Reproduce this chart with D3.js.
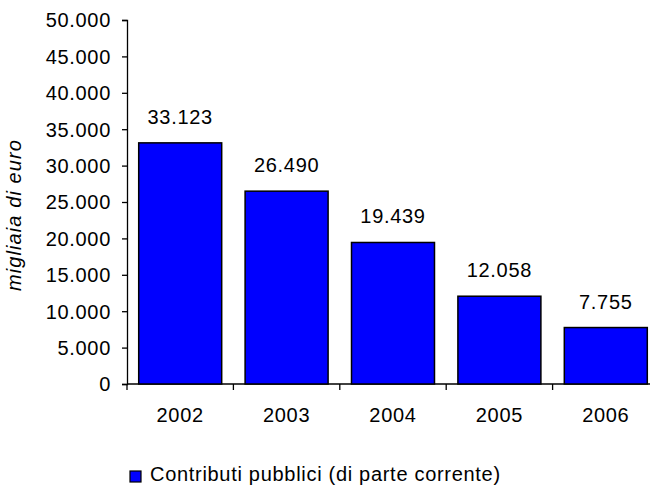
<!DOCTYPE html>
<html>
<head>
<meta charset="utf-8">
<script src="https://cdn.jsdelivr.net/npm/d3@7"></script>
<style>
  html, body { margin: 0; padding: 0; background: #fff; }
  svg { display: block; font-family: "Liberation Sans", Arial, sans-serif; }
  text { letter-spacing: 0.7px; }
</style>
</head>
<body>
<svg id="chart" width="650" height="490"></svg>
<script>
// Annual public contributions (current account), thousands of euro
const years = ["2002", "2003", "2004", "2005", "2006"];
const values = [33123, 26490, 19439, 12058, 7755];
const yTicks = [0, 5000, 10000, 15000, 20000, 25000, 30000, 35000, 40000, 45000, 50000];
const seriesName = "Contributi pubblici (di parte corrente)";
const yTitle = "migliaia di euro";

const svg = d3.select("#chart");
const fontSize = 20;
const fmt = d3.formatLocale({ decimal: ",", thousands: ".", grouping: [3], currency: ["", "€"] }).format(",d");

const plotLeft = 127, plotRight = 659, plotTop = 20, plotBottom = 384;

const x = d3.scaleBand().domain(years).range([plotLeft, plotRight]).paddingInner(0.22).paddingOuter(0.11);
const y = d3.scaleLinear().domain([0, 50000]).range([plotBottom, plotTop]);

// Y axis
const yAxis = svg.append("g")
  .attr("transform", `translate(${plotLeft},0)`)
  .call(d3.axisLeft(y).tickValues(yTicks).tickFormat(d => fmt(d)).tickSize(5).tickPadding(11));
yAxis.select(".domain").attr("stroke", "#000").attr("stroke-width", 1.3);
yAxis.selectAll(".tick line").attr("stroke", "#000").attr("stroke-width", 1.3);
yAxis.selectAll(".tick text")
  .attr("font-size", fontSize)
  .attr("font-family", "Liberation Sans, Arial, sans-serif")
  .attr("fill", "#000")
  .attr("dy", "0.34em");

// X axis: ticks sit on category boundaries
const xAxisG = svg.append("g").attr("transform", `translate(0,${plotBottom})`);
xAxisG.append("line")
  .attr("x1", plotLeft).attr("x2", plotRight).attr("y1", 0).attr("y2", 0)
  .attr("stroke", "#000").attr("stroke-width", 1.3);
const step = x.step();
const boundaries = years.map((d, i) => plotLeft + i * step).concat([plotRight]);
xAxisG.selectAll("line.tick").data(boundaries).join("line")
  .attr("class", "tick")
  .attr("x1", d => d).attr("x2", d => d).attr("y1", 0).attr("y2", 6)
  .attr("stroke", "#000").attr("stroke-width", 1.3);
xAxisG.selectAll("text").data(years).join("text")
  .attr("x", d => x(d) + x.bandwidth() / 2)
  .attr("y", 38)
  .attr("text-anchor", "middle")
  .attr("font-size", fontSize)
  .text(d => d);

// Bars
svg.append("g").selectAll("rect").data(values).join("rect")
  .attr("x", (d, i) => x(years[i]))
  .attr("y", d => y(d))
  .attr("width", x.bandwidth())
  .attr("height", d => y(0) - y(d))
  .attr("fill", "#0000ff")
  .attr("stroke", "#000")
  .attr("stroke-width", 1.5);

// Value labels
svg.append("g").selectAll("text").data(values).join("text")
  .attr("x", (d, i) => x(years[i]) + x.bandwidth() / 2)
  .attr("y", d => y(d) - 19)
  .attr("text-anchor", "middle")
  .attr("font-size", fontSize)
  .text(d => fmt(d));

// Y axis title
svg.append("text")
  .attr("transform", `translate(21,215) rotate(-90)`)
  .attr("text-anchor", "middle")
  .attr("font-size", fontSize)
  .attr("font-style", "italic")
  .style("letter-spacing", "1.1px")
  .text(yTitle);

// Legend
const lg = svg.append("g").attr("transform", "translate(130,471)");
lg.append("rect").attr("width", 11).attr("height", 11)
  .attr("fill", "#0000ff").attr("stroke", "#000").attr("stroke-width", 1.2);
lg.append("text").attr("x", 20).attr("y", 10).attr("font-size", fontSize).text(seriesName);
</script>
</body>
</html>
